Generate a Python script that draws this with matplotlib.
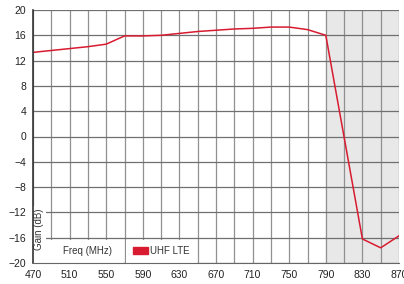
import matplotlib.pyplot as plt
from matplotlib.patches import Rectangle, Patch

plt.rcParams['font.family'] = ['Liberation Sans', 'DejaVu Sans']

# frequency (MHz) and gain (dB)
freq = [470, 490, 510, 530, 550, 570, 590, 610, 630, 650, 670, 690, 710, 730, 750, 770, 790, 830, 850, 870]
gain = [13.3, 13.6, 13.9, 14.2, 14.6, 15.9, 15.9, 16.0, 16.3, 16.6, 16.8, 17.0, 17.1, 17.3, 17.3, 16.9, 16.0, -16.2, -17.6, -15.7]

x_ticks = list(range(470, 871, 40))
y_ticks = list(range(-20, 21, 4))
band_out = (790, 870)  # shaded region
series_name = 'UHF LTE'
red = '#d81b30'

fig = plt.figure(figsize=(4.04, 2.84), dpi=100)
ax = fig.add_axes([33 / 404, 21 / 284, 366 / 404, 253 / 284])

ax.axvspan(band_out[0], band_out[1], color='#e8e8e8', zorder=0)

for xv in range(470, 871, 20):
    ax.axvline(xv, color='#909090', lw=0.9, zorder=0.5)
for yv in y_ticks:
    ax.axhline(yv, color='#707070', lw=0.9, zorder=0.5)

# white boxes behind the axis caption and legend
ax.add_patch(Rectangle((470, -20), 98.5, 3.7, facecolor='white', edgecolor='none', zorder=1))
ax.add_patch(Rectangle((571.5, -20), 78, 3.7, facecolor='white', edgecolor='none', zorder=1))

ax.plot(freq, gain, color=red, lw=1.1, zorder=3)

ax.set_xlim(470, 870)
ax.set_ylim(-20, 20)
ax.set_xticks(x_ticks)
ax.set_yticks(y_ticks)
ax.tick_params(length=0, labelsize=7.5, colors='#222222', pad=5)

for side in ['top', 'right']:
    ax.spines[side].set_visible(False)
ax.spines['left'].set_color('#333333')
ax.spines['left'].set_linewidth(1.2)
ax.spines['left'].set_zorder(5)
ax.spines['bottom'].set_color('#666666')
ax.spines['bottom'].set_linewidth(0.8)
ax.spines['bottom'].set_zorder(5)

ax.text(0.017, 0.135, 'Gain (dB)', transform=ax.transAxes, rotation=90,
        ha='center', va='center', fontsize=7, color='#333333', zorder=2,
        bbox=dict(facecolor='white', edgecolor='none', pad=1.5))
ax.text(0.150, 0.048, 'Freq (MHz)', transform=ax.transAxes,
        ha='center', va='center', fontsize=7, color='#333333', zorder=4)

ax.legend(handles=[Patch(color=red, label=series_name)], loc='center left',
          bbox_to_anchor=(0.26, 0.048), frameon=False, fontsize=7,
          handlelength=1.5, handleheight=0.6, handletextpad=0.2,
          borderpad=0, labelcolor='#333333')

fig.savefig('out.png', dpi=100)
